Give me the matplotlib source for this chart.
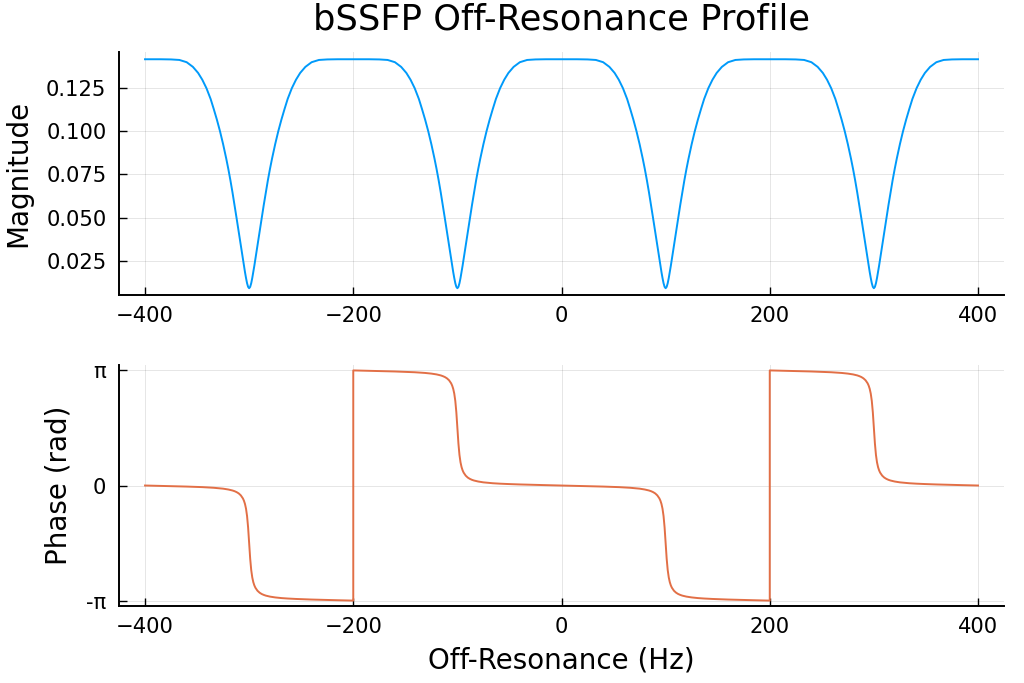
import matplotlib
matplotlib.use("Agg")
import matplotlib.pyplot as plt
import numpy as np

# off-resonance frequency (Hz); the phase wraps at -200 and 200 are listed twice
freq_hz = [-400, -385, -375, -367, -360, -354, -349, -345, -341, -337, -334, -331, -328, -325, -322, -320, -318, -316, -314, -312,
           -310, -308, -306, -305, -304, -303, -302, -301, -300, -299, -298, -297, -296, -295, -294, -292, -290, -288, -286, -284,
           -282, -280, -278, -275, -272, -269, -266, -263, -259, -255, -251, -246, -240, -233, -225, -215, -200,
           -200, -185, -175, -167, -160, -154, -149, -145, -141, -137, -134, -131, -128, -125, -122, -120, -118, -116, -114, -112,
           -110, -108, -106, -105, -104, -103, -102, -101, -100, -99, -98, -97, -96, -95, -94, -92, -90, -88, -86, -84,
           -82, -80, -78, -75, -72, -69, -66, -63, -59, -55, -51, -46, -40, -33, -25, -15,
           0, 15, 25, 33, 40, 46, 51, 55, 59, 63, 66, 69, 72, 75, 78, 80, 82, 84, 86, 88,
           90, 92, 94, 95, 96, 97, 98, 99, 100, 101, 102, 103, 104, 105, 106, 108, 110, 112, 114, 116,
           118, 120, 122, 125, 128, 131, 134, 137, 141, 145, 149, 154, 160, 167, 175, 185, 200,
           200, 215, 225, 233, 240, 246, 251, 255, 259, 263, 266, 269, 272, 275, 278, 280, 282, 284, 286, 288,
           290, 292, 294, 295, 296, 297, 298, 299, 300, 301, 302, 303, 304, 305, 306, 308, 310, 312, 314, 316,
           318, 320, 322, 325, 328, 331, 334, 337, 341, 345, 349, 354, 360, 367, 375, 385, 400]

magnitude = [0.1414, 0.1414, 0.1413, 0.1410, 0.1397, 0.1370, 0.1335, 0.1296, 0.1247, 0.1185, 0.1127, 0.1066, 0.0999, 0.0924, 0.0841, 0.0781, 0.0716, 0.0646, 0.0572, 0.0495,
             0.0417, 0.0339, 0.0261, 0.0223, 0.0186, 0.0152, 0.0122, 0.0101, 0.0093, 0.0101, 0.0122, 0.0152, 0.0186, 0.0223, 0.0261, 0.0339, 0.0417, 0.0495, 0.0572, 0.0646,
             0.0716, 0.0781, 0.0841, 0.0924, 0.0999, 0.1066, 0.1127, 0.1185, 0.1247, 0.1296, 0.1335, 0.1370, 0.1397, 0.1410, 0.1413, 0.1414, 0.1414,
             0.1414, 0.1414, 0.1413, 0.1410, 0.1397, 0.1370, 0.1335, 0.1296, 0.1247, 0.1185, 0.1127, 0.1066, 0.0999, 0.0924, 0.0841, 0.0781, 0.0716, 0.0646, 0.0572, 0.0495,
             0.0417, 0.0339, 0.0261, 0.0223, 0.0186, 0.0152, 0.0122, 0.0101, 0.0093, 0.0101, 0.0122, 0.0152, 0.0186, 0.0223, 0.0261, 0.0339, 0.0417, 0.0495, 0.0572, 0.0646,
             0.0716, 0.0781, 0.0841, 0.0924, 0.0999, 0.1066, 0.1127, 0.1185, 0.1247, 0.1296, 0.1335, 0.1370, 0.1397, 0.1410, 0.1413, 0.1414,
             0.1414, 0.1414, 0.1413, 0.1410, 0.1397, 0.1370, 0.1335, 0.1296, 0.1247, 0.1185, 0.1127, 0.1066, 0.0999, 0.0924, 0.0841, 0.0781, 0.0716, 0.0646, 0.0572, 0.0495,
             0.0417, 0.0339, 0.0261, 0.0223, 0.0186, 0.0152, 0.0122, 0.0101, 0.0093, 0.0101, 0.0122, 0.0152, 0.0186, 0.0223, 0.0261, 0.0339, 0.0417, 0.0495, 0.0572, 0.0646,
             0.0716, 0.0781, 0.0841, 0.0924, 0.0999, 0.1066, 0.1127, 0.1185, 0.1247, 0.1296, 0.1335, 0.1370, 0.1397, 0.1410, 0.1413, 0.1414, 0.1414,
             0.1414, 0.1414, 0.1413, 0.1410, 0.1397, 0.1370, 0.1335, 0.1296, 0.1247, 0.1185, 0.1127, 0.1066, 0.0999, 0.0924, 0.0841, 0.0781, 0.0716, 0.0646, 0.0572, 0.0495,
             0.0417, 0.0339, 0.0261, 0.0223, 0.0186, 0.0152, 0.0122, 0.0101, 0.0093, 0.0101, 0.0122, 0.0152, 0.0186, 0.0223, 0.0261, 0.0339, 0.0417, 0.0495, 0.0572, 0.0646,
             0.0716, 0.0781, 0.0841, 0.0924, 0.0999, 0.1066, 0.1127, 0.1185, 0.1247, 0.1296, 0.1335, 0.1370, 0.1397, 0.1410, 0.1413, 0.1414, 0.1414]

phase_rad = [0.000, -0.010, -0.017, -0.023, -0.029, -0.034, -0.040, -0.044, -0.050, -0.056, -0.062, -0.069, -0.077, -0.086, -0.099, -0.109, -0.121, -0.136, -0.155, -0.181,
             -0.216, -0.269, -0.352, -0.415, -0.503, -0.633, -0.833, -1.144, -1.571, -1.997, -2.309, -2.509, -2.639, -2.727, -2.790, -2.873, -2.925, -2.961, -2.986, -3.006,
             -3.021, -3.033, -3.043, -3.055, -3.065, -3.073, -3.080, -3.085, -3.092, -3.097, -3.102, -3.107, -3.113, -3.119, -3.125, -3.132, -3.142,
             3.142, 3.132, 3.125, 3.119, 3.113, 3.107, 3.102, 3.097, 3.092, 3.085, 3.080, 3.073, 3.065, 3.055, 3.043, 3.033, 3.021, 3.006, 2.986, 2.961,
             2.925, 2.873, 2.790, 2.727, 2.639, 2.509, 2.309, 1.997, 1.571, 1.144, 0.833, 0.633, 0.503, 0.415, 0.352, 0.269, 0.216, 0.181, 0.155, 0.136,
             0.121, 0.109, 0.099, 0.086, 0.077, 0.069, 0.062, 0.056, 0.050, 0.044, 0.040, 0.034, 0.029, 0.023, 0.017, 0.010,
             0.000, -0.010, -0.017, -0.023, -0.029, -0.034, -0.040, -0.044, -0.050, -0.056, -0.062, -0.069, -0.077, -0.086, -0.099, -0.109, -0.121, -0.136, -0.155, -0.181,
             -0.216, -0.269, -0.352, -0.415, -0.503, -0.633, -0.833, -1.144, -1.571, -1.997, -2.309, -2.509, -2.639, -2.727, -2.790, -2.873, -2.925, -2.961, -2.986, -3.006,
             -3.021, -3.033, -3.043, -3.055, -3.065, -3.073, -3.080, -3.085, -3.092, -3.097, -3.102, -3.107, -3.113, -3.119, -3.125, -3.132, -3.142,
             3.142, 3.132, 3.125, 3.119, 3.113, 3.107, 3.102, 3.097, 3.092, 3.085, 3.080, 3.073, 3.065, 3.055, 3.043, 3.033, 3.021, 3.006, 2.986, 2.961,
             2.925, 2.873, 2.790, 2.727, 2.639, 2.509, 2.309, 1.997, 1.571, 1.144, 0.833, 0.633, 0.503, 0.415, 0.352, 0.269, 0.216, 0.181, 0.155, 0.136,
             0.121, 0.109, 0.099, 0.086, 0.077, 0.069, 0.062, 0.056, 0.050, 0.044, 0.040, 0.034, 0.029, 0.023, 0.017, 0.010, 0.000]

mag_ticks = [0.025, 0.050, 0.075, 0.100, 0.125]
phase_ticks = [-np.pi, 0, np.pi]
phase_ticklabels = ["-π", "0", "π"]
x_ticks = [-400, -200, 0, 200, 400]

plt.rcParams['font.family'] = ['DejaVu Sans']

fig = plt.figure(figsize=(10.24, 6.83), dpi=100)
ax1 = fig.add_axes([0.1162, 0.5681, 0.8643, 0.3558])
ax2 = fig.add_axes([0.1162, 0.1127, 0.8643, 0.3529])

ax1.plot(freq_hz, magnitude, color='#009afa', lw=1.4)
ax2.plot(freq_hz, phase_rad, color='#e26f46', lw=1.4)

for ax in (ax1, ax2):
    ax.set_xlim(-425, 425)
    ax.set_xticks(x_ticks)
    ax.spines['top'].set_visible(False)
    ax.spines['right'].set_visible(False)
    ax.spines['left'].set_linewidth(1.4)
    ax.spines['bottom'].set_linewidth(1.4)
    ax.grid(True, color='black', alpha=0.1, lw=0.7)
    ax.tick_params(direction='in', length=6, width=1, labelsize=15.2)
    ax.tick_params(axis='x', pad=8)
    ax.tick_params(axis='y', pad=9)

ax1.set_ylim(0.0054, 0.1456)
ax1.set_yticks(mag_ticks)
ax1.set_yticklabels([f"{t:.3f}" for t in mag_ticks])
ax1.set_ylabel("Magnitude", fontsize=20, labelpad=10)
ax1.set_title("bSSFP Off-Resonance Profile", fontsize=25.4, pad=16)

ax2.set_ylim(-3.29, 3.29)
ax2.set_yticks(phase_ticks)
ax2.set_yticklabels(phase_ticklabels)
ax2.set_ylabel("Phase (rad)", fontsize=20, labelpad=10)
ax2.set_xlabel("Off-Resonance (Hz)", fontsize=20, labelpad=7)

fig.savefig("out.png", dpi=100)
